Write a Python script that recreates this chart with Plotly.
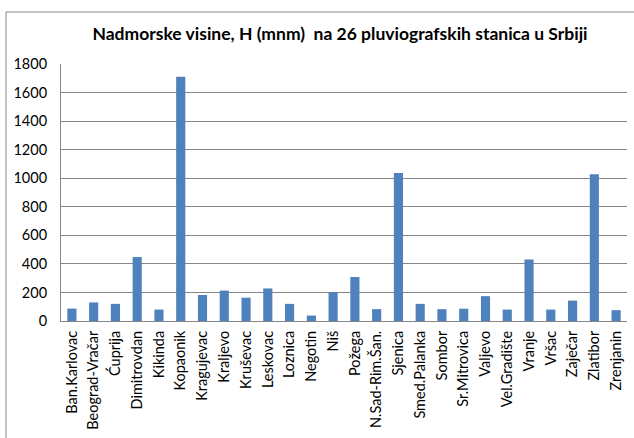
import plotly.graph_objects as go

stations = ["Ban.Karlovac", "Beograd-Vračar", "Ćuprija", "Dimitrovdan", "Kikinda", "Kopaonik",
            "Kragujevac", "Kraljevo", "Kruševac", "Leskovac", "Loznica", "Negotin", "Niš",
            "Požega", "N.Sad-Rim.Šan.", "Sjenica", "Smed.Palanka", "Sombor", "Sr.Mitrovica",
            "Valjevo", "Vel.Gradište", "Vranje", "Vršac", "Zaječar", "Zlatibor", "Zrenjanin"]
heights = [87, 130, 120, 448, 80, 1711, 182, 213, 163, 228, 120, 38, 202, 308, 83, 1036,
           120, 83, 86, 174, 80, 431, 80, 143, 1028, 76]
y_ticks = [0, 200, 400, 600, 800, 1000, 1200, 1400, 1600, 1800]

W, H = 634, 438
L, R, T, B = 61, 7, 64, 117
pw, ph = W - L - R, H - T - B

def px(x):
    return (x - L) / pw

def py(y):
    return (H - B - y) / ph

FONT = "Lato, Liberation Sans, sans-serif"

fig = go.Figure(go.Bar(x=stations, y=heights, marker=dict(color="#4F81BD", line=dict(width=0))))

fig.update_layout(
    width=W, height=H,
    margin=dict(l=L, r=R, t=T, b=B),
    paper_bgcolor="white", plot_bgcolor="white",
    bargap=0.58,
    showlegend=False,
    font=dict(family=FONT, size=14, color="black"),
    title=dict(text="<b>Nadmorske visine, H (mnm)  na 26 pluviografskih stanica u Srbiji</b>",
               xref="container", x=340 / W, xanchor="center",
               yref="container", y=1 - 34 / H, yanchor="middle",
               font=dict(family=FONT, size=17.5, color="black")),
    xaxis=dict(tickangle=-90, showgrid=False, showline=True, linecolor="#868686", linewidth=1,
               ticks="", tickfont=dict(size=14.5), automargin=False, ticklabelstandoff=3),
    yaxis=dict(range=[0, 1800], tickvals=y_ticks, showgrid=True, gridcolor="#868686", gridwidth=1,
               showline=True, linecolor="#868686", linewidth=1, ticks="", zeroline=False,
               tickfont=dict(size=14.5), automargin=False, ticklabelstandoff=10),
    shapes=[
        dict(type="line", xref="paper", yref="paper", x0=px(6), x1=px(634), y0=py(12), y1=py(12),
             line=dict(color="#868686", width=1)),
        dict(type="line", xref="paper", yref="paper", x0=px(6), x1=px(6), y0=py(12), y1=py(438),
             line=dict(color="#868686", width=1)),
    ],
)

fig.write_html("out.html", config={"displayModeBar": False},
               post_script="document.body.style.margin='0';document.body.style.overflow='hidden';")
